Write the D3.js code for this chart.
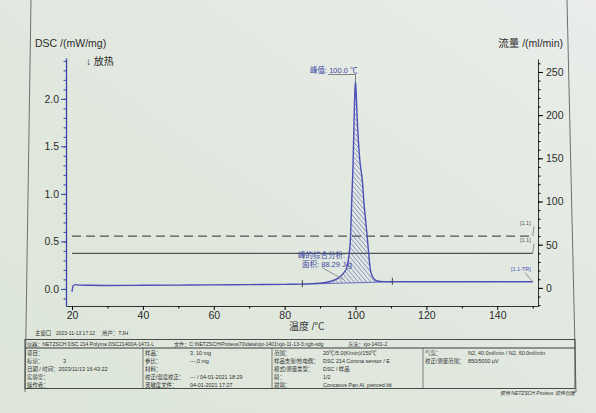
<!DOCTYPE html>
<html>
<head>
<meta charset="utf-8">
<script src="https://cdn.jsdelivr.net/npm/d3@7"></script>
<style>
  body { margin: 0; background: #e3e9e1; }
  svg { display: block; font-family: "Liberation Sans", "Noto Sans CJK SC", sans-serif; }
</style>
</head>
<body>
<script>
// DSC curve
const dscTemp  = [20, 20.3, 21, 22, 25, 30, 40, 50, 60, 70, 80, 85, 88, 91, 93, 95, 96.5, 97.5, 98.1, 98.6, 98.9, 99.3, 99.6, 99.85, 100.0, 100.2, 100.5, 101.2, 101.9, 102.4, 103.3, 103.8, 104.2, 104.8, 105.5, 106.5, 108, 110, 120, 130, 140, 150];
const dscValue = [-0.03, 0.03, 0.045, 0.04, 0.038, 0.036, 0.038, 0.04, 0.042, 0.045, 0.048, 0.05, 0.055, 0.065, 0.08, 0.11, 0.16, 0.22, 0.34, 0.55, 0.9, 1.3, 1.78, 2.1, 2.18, 2.05, 1.78, 1.36, 1.15, 0.9, 0.55, 0.34, 0.2, 0.13, 0.095, 0.08, 0.076, 0.075, 0.075, 0.075, 0.075, 0.075];

// gas flow curves
const flowTemp = [20, 150];
const flowPurge = [60, 60];     // dashed
const flowProtect = [40, 40];   // solid

const tempTicks = [20, 40, 60, 80, 100, 120, 140];
const dscTicks = [0, 0.5, 1.0, 1.5, 2.0];
const flowTicks = [0, 50, 100, 150, 200, 250];

const integLimits = [85, 110.4];
const peakTemp = 100.0;
const peakArea = 88.29;

const W = 596, H = 413;
const svg = d3.select('body').append('svg')
  .attr('width', W)
  .attr('height', H);

const defs = svg.append('defs');
const bg = defs.append('linearGradient').attr('id', 'bg')
  .attr('x1', 1).attr('y1', 0).attr('x2', 0).attr('y2', 1);
bg.append('stop').attr('offset', 0).attr('stop-color', '#eaedea');
bg.append('stop').attr('offset', 0.5).attr('stop-color', '#e1e8df');
bg.append('stop').attr('offset', 1).attr('stop-color', '#dde6d9');

const hatch = defs.append('pattern').attr('id', 'hatch')
  .attr('patternUnits', 'userSpaceOnUse')
  .attr('width', 3.2).attr('height', 3.2)
  .attr('patternTransform', 'rotate(-40)');
hatch.append('line')
  .attr('x1', 0).attr('y1', 0).attr('x2', 0).attr('y2', 3.2)
  .attr('stroke', '#4b52b4').attr('stroke-width', 0.9);

svg.append('rect').attr('width', W).attr('height', H).attr('fill', 'url(#bg)');

// page edges
svg.append('line').attr('x1', 31).attr('y1', 0).attr('x2', 25).attr('y2', 392)
  .attr('stroke', '#6c716d').attr('stroke-width', 1);
svg.append('line').attr('x1', 567).attr('y1', 0).attr('x2', 576).attr('y2', 392)
  .attr('stroke', '#6c716d').attr('stroke-width', 1);

const x = d3.scaleLinear().domain([18.3, 151.5]).range([66, 538]);
const yDsc = d3.scaleLinear().domain([-0.18, 2.43]).range([306, 58]);
const yFlow = d3.scaleLinear().domain([-21, 265]).range([306, 59]);

const dsc = dscTemp.map((t, i) => ({ t: t, v: dscValue[i] }));

// bottom axis
const xAxis = svg.append('g').attr('transform', 'translate(0,306)')
  .call(d3.axisBottom(x).tickValues(tempTicks).tickSize(4).tickSizeOuter(0).tickPadding(2));
svg.append('g').attr('transform', 'translate(0,306)')
  .call(d3.axisBottom(x).tickValues([30, 50, 70, 90, 110, 130, 150]).tickSize(2.5).tickFormat('').tickSizeOuter(0))
  .select('.domain').remove();
xAxis.selectAll('text').attr('font-size', 10.5).attr('fill', '#2b2b2b');
xAxis.select('.domain').attr('stroke', '#333');

// left axis
const yAxis = svg.append('g').attr('transform', 'translate(66,0)')
  .call(d3.axisLeft(yDsc).tickValues(dscTicks).tickFormat(d3.format('.1f')).tickSize(5).tickSizeOuter(0).tickPadding(2));
svg.append('g').attr('transform', 'translate(66,0)')
  .call(d3.axisLeft(yDsc).tickValues(d3.range(-0.1, 2.41, 0.1)).tickSize(2.5).tickFormat('').tickSizeOuter(0))
  .call(g => g.select('.domain').remove())
  .selectAll('line').attr('stroke', '#3a48a8');
yAxis.select('.domain').attr('stroke', '#3a48a8').attr('stroke-width', 1.3);
yAxis.selectAll('line').attr('stroke', '#3a48a8');
yAxis.selectAll('text').attr('font-size', 10.5).attr('fill', '#2b2b2b');

// right axis
const fAxis = svg.append('g').attr('transform', 'translate(538,0)')
  .call(d3.axisRight(yFlow).tickValues(flowTicks).tickSize(5).tickSizeOuter(0).tickPadding(3));
svg.append('g').attr('transform', 'translate(538,0)')
  .call(d3.axisRight(yFlow).tickValues(d3.range(-20, 261, 10)).tickSize(2.5).tickFormat('').tickSizeOuter(0))
  .select('.domain').remove();
fAxis.select('.domain').attr('stroke', '#333');
fAxis.selectAll('text').attr('font-size', 10.5).attr('fill', '#2b2b2b');

// axis titles
svg.append('text').attr('x', 35).attr('y', 47).attr('font-size', 10.5).attr('fill', '#2b2b2b')
  .text('DSC /(mW/mg)');
svg.append('text').attr('x', 86).attr('y', 65).attr('font-size', 10).attr('fill', '#2b2b2b')
  .text('↓ 放热');
svg.append('text').attr('x', 563).attr('y', 47).attr('font-size', 10.5).attr('fill', '#2b2b2b')
  .attr('text-anchor', 'end').text('流量 /(ml/min)');
svg.append('text').attr('x', 289).attr('y', 330).attr('font-size', 10).attr('fill', '#3a3a3a')
  .text('温度 /℃');

// flow lines
const flowLine = d3.line().x(d => x(d.t)).y(d => yFlow(d.v));
svg.append('path')
  .datum(flowTemp.map((t, i) => ({ t: t, v: flowPurge[i] })))
  .attr('d', flowLine).attr('fill', 'none')
  .attr('stroke', '#4e5651').attr('stroke-width', 1.2).attr('stroke-dasharray', '9,5');
svg.append('path')
  .datum(flowTemp.map((t, i) => ({ t: t, v: flowProtect[i] })))
  .attr('d', flowLine).attr('fill', 'none')
  .attr('stroke', '#4e5651').attr('stroke-width', 1.2);

// hatched peak area between curve and integration baseline
const vAt = t => {
  const i = d3.bisector(d => d.t).left(dsc, t);
  if (i <= 0) return dsc[0].v;
  const a = dsc[i - 1], b = dsc[i];
  return a.v + (b.v - a.v) * (t - a.t) / (b.t - a.t);
};
const b0 = { t: integLimits[0], v: vAt(integLimits[0]) };
const b1 = { t: integLimits[1], v: vAt(integLimits[1]) };
const baseAt = t => b0.v + (b1.v - b0.v) * (t - b0.t) / (b1.t - b0.t);
const areaPts = [b0].concat(dsc.filter(d => d.t > b0.t && d.t < b1.t), [b1]);

svg.append('path')
  .datum(areaPts)
  .attr('d', d3.area().x(d => x(d.t)).y0(d => yDsc(baseAt(d.t))).y1(d => yDsc(Math.max(d.v, baseAt(d.t)))).curve(d3.curveMonotoneX))
  .attr('fill', 'url(#hatch)').attr('stroke', 'none');

svg.append('line')
  .attr('x1', x(b0.t)).attr('y1', yDsc(b0.v)).attr('x2', x(b1.t)).attr('y2', yDsc(b1.v))
  .attr('stroke', '#4b52b4').attr('stroke-width', 0.8);

// DSC curve
svg.append('path')
  .datum(dsc)
  .attr('d', d3.line().x(d => x(d.t)).y(d => yDsc(d.v)).curve(d3.curveMonotoneX))
  .attr('fill', 'none').attr('stroke', '#4b4fb6').attr('stroke-width', 1.4);

// integration limit marks
svg.selectAll('.lim').data([b0, b1]).enter().append('line')
  .attr('x1', d => x(d.t)).attr('x2', d => x(d.t))
  .attr('y1', d => yDsc(d.v) - 4).attr('y2', d => yDsc(d.v) + 3)
  .attr('stroke', '#333').attr('stroke-width', 0.9);

// peak annotation
const peakV = d3.max(dscValue);
const px = x(peakTemp);
svg.append('text').attr('x', 310).attr('y', 73).attr('font-size', 7.5).attr('fill', '#3e47a6')
  .text('峰值: ' + peakTemp.toFixed(1) + ' ℃');
svg.append('polyline')
  .attr('points', `328,74.5 ${px},74.5 ${px},${yDsc(peakV)}`)
  .attr('fill', 'none').attr('stroke', '#555').attr('stroke-width', 0.7);

// area annotation
svg.append('text').attr('x', 298).attr('y', 258).attr('font-size', 7.5).attr('fill', '#3e47a6')
  .text('峰的综合分析:');
svg.append('text').attr('x', 302).attr('y', 266.5).attr('font-size', 7.5).attr('fill', '#3e47a6')
  .text('面积: ' + peakArea + ' J/g');
svg.append('line').attr('x1', 322).attr('y1', 267.5).attr('x2', 343).attr('y2', 279.5)
  .attr('stroke', '#555').attr('stroke-width', 0.6);

// curve labels at the right end
const endX = x(flowTemp[1]);
const tags = [
  { txt: '[1.1]', tx: 520, ty: 225, ly: yFlow(flowPurge[1]), c: '#555' },
  { txt: '[1.1]', tx: 520, ty: 242, ly: yFlow(flowProtect[1]), c: '#555' },
  { txt: '[1.1-TR]', tx: 511, ty: 271, ly: yDsc(dscValue[dscValue.length - 1]), c: '#4b4fb6' }
];
tags.forEach(d => {
  svg.append('text').attr('x', d.tx).attr('y', d.ty).attr('font-size', 5.5).attr('fill', d.c).text(d.txt);
  svg.append('line').attr('x1', d.tx + 14).attr('y1', d.ty + 1.5).attr('x2', endX).attr('y2', d.ly)
    .attr('stroke', '#555').attr('stroke-width', 0.6);
});

// info strip under the chart
const info = svg.append('g').attr('font-size', 5.4).attr('fill', '#2e2e2e');
info.append('text').attr('x', 35).attr('y', 335).text('主窗口');
info.append('text').attr('x', 56).attr('y', 335).attr('font-size', 5).text('2023-11-13 17:12');
info.append('text').attr('x', 102).attr('y', 335).text('用户：TJH');

const tbl = svg.append('g');
tbl.append('rect').attr('x', 25).attr('y', 339.5).attr('width', 550).attr('height', 49)
  .attr('fill', 'none').attr('stroke', '#3a3a3a').attr('stroke-width', 0.9);
tbl.append('line').attr('x1', 25).attr('x2', 575).attr('y1', 348).attr('y2', 348)
  .attr('stroke', '#3a3a3a').attr('stroke-width', 1.2);
[143, 272, 423].forEach(cx => {
  tbl.append('line').attr('x1', cx).attr('x2', cx).attr('y1', 348).attr('y2', 388.5)
    .attr('stroke', '#3a3a3a').attr('stroke-width', 0.6);
});

const head = svg.append('g').attr('font-size', 5.1).attr('fill', '#2e2e2e');
head.append('text').attr('x', 27).attr('y', 346).text('仪器：NETZSCH DSC 214 Polyma DSC21400A-1471-L');
head.append('text').attr('x', 174).attr('y', 346).text('文件：C:\\NETZSCH\\Proteus70\\data\\xjo-1401\\xjo-11-13-3.ngb-sdg');
head.append('text').attr('x', 348).attr('y', 346).text('方法：xjo-1401-2');

const rowsY = [355, 363, 371, 379, 387];
const cells = [
  [27, 0, '项目：'], [27, 1, '标识：'], [63, 1, '3'], [27, 2, '日期 / 时间：2023/11/13 16:43:22'], [27, 3, '实验室：'], [27, 4, '操作者：'],
  [145, 0, '样品：'], [190, 0, '3, 10 mg'], [145, 1, '参比：'], [190, 1, '---,0 mg'], [145, 2, '材料：'],
  [145, 3, '校正/温度校正：'], [190, 3, '--- / 04-01-2021 18:29'], [145, 4, '灵敏度文件：'], [190, 4, '04-01-2021 17:27'],
  [274, 0, '范围：'], [323, 0, '20℃/5.0(K/min)/150℃'], [274, 1, '样品支架/热电偶：'], [323, 1, 'DSC 214 Corona sensor / E'],
  [274, 2, '模式/测量类型：'], [323, 2, 'DSC / 样品'], [274, 3, '段：'], [323, 3, '1/2'],
  [274, 4, '坩埚：'], [323, 4, 'Concavus Pan Al, pierced lid'],
  [425, 0, '气氛：'], [468, 0, 'N2, 40.0ml/min / N2, 60.0ml/min'], [425, 1, '校正/测量范围：'], [468, 1, '850/5000 μV']
];
cells.forEach(c => info.append('text').attr('x', c[0]).attr('y', rowsY[c[1]]).text(c[2]));

svg.append('text').attr('x', 575).attr('y', 395).attr('text-anchor', 'end')
  .attr('font-size', 5).attr('font-style', 'italic').attr('fill', '#333')
  .text('使用 NETZSCH Proteus 软件创建');
</script>
</body>
</html>
